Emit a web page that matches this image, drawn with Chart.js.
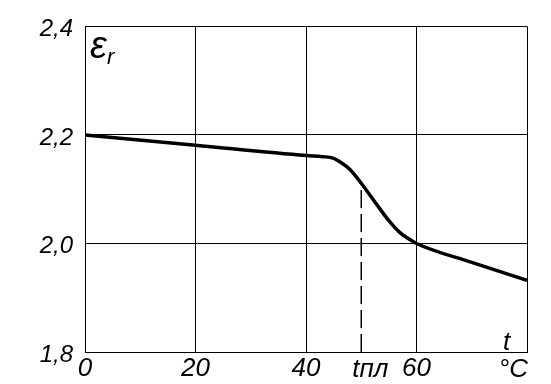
<!DOCTYPE html>
<html>
<head>
<meta charset="utf-8">
<script src="https://cdn.jsdelivr.net/npm/chart.js@4/dist/chart.umd.min.js"></script>
<style>
html,body{margin:0;padding:0;background:#fff;}
canvas{display:block;}
</style>
</head>
<body>
<canvas id="c" width="551" height="384"></canvas>
<script>
// Temperature, °C
const temps = [0, 20, 40, 43, 45, 46.5, 48, 50, 52.5, 55, 57, 58.5, 60, 70, 80];
// Relative permittivity ε_r
const epsR = [2.2, 2.181, 2.162, 2.160, 2.157, 2.148, 2.136, 2.111, 2.076, 2.042, 2.020, 2.009, 2.0, 1.965, 1.932];
// Melting temperature marker
const tMelt = 50;
const epsAtMelt = 2.111;
const xTicks = [0, 20, 40, 50, 60, 80];
const xTickLabels = ['0', '20', '40', '', '60', ''];
const yTicks = [1.8, 2.0, 2.2, 2.4];
const meltLabel = 'tпл';
const unitLabel = '°C';
const axisLabelX = 't';
const axisLabelY = 'ε';
const axisLabelYSub = 'r';

const FONT = '"Liberation Sans", Arial, sans-serif';

const labelsPlugin = {
  id: 'labels',
  afterDraw(chart) {
    const ctx = chart.ctx;
    const xs = chart.scales.x;
    const ca = chart.chartArea;
    ctx.save();
    ctx.fillStyle = '#000';
    ctx.textBaseline = 'alphabetic';
    ctx.font = 'italic 26px ' + FONT;
    ctx.textAlign = 'left';
    ctx.fillText(meltLabel, xs.getPixelForValue(tMelt) - 9, ca.bottom + 25);
    ctx.textAlign = 'right';
    ctx.fillText(unitLabel, xs.getPixelForValue(80) + 1, ca.bottom + 25);
    ctx.textAlign = 'left';
    ctx.fillText(axisLabelX, ca.right - 24, ca.bottom - 2);
    ctx.font = 'italic 38px ' + FONT;
    ctx.fillText(axisLabelY, ca.left + 5, ca.top + 32);
    ctx.font = 'italic 22px ' + FONT;
    ctx.fillText(axisLabelYSub, ca.left + 22, ca.top + 38);
    ctx.restore();
  }
};

new Chart(document.getElementById('c'), {
  type: 'scatter',
  data: {
    datasets: [
      {
        data: temps.map((t, i) => ({x: t, y: epsR[i]})),
        showLine: true,
        borderColor: '#000',
        borderWidth: 3.5,
        pointRadius: 0,
        cubicInterpolationMode: 'monotone',
        fill: false
      },
      {
        data: [{x: tMelt, y: yTicks[0]}, {x: tMelt, y: epsAtMelt}],
        showLine: true,
        borderColor: '#000',
        borderWidth: 1.5,
        borderDash: [18, 6],
        pointRadius: 0,
        fill: false
      }
    ]
  },
  options: {
    responsive: false,
    animation: false,
    devicePixelRatio: 1,
    layout: {padding: {left: 0, right: 24, top: 20, bottom: 0}},
    plugins: {legend: {display: false}, tooltip: {enabled: false}},
    scales: {
      x: {
        type: 'linear',
        min: 0, max: 80,
        afterBuildTicks: s => { s.ticks = xTicks.map(v => ({value: v})); },
        afterFit: s => { s.height = 32; },
        grid: {
          color: c => (c.tick && c.tick.value === tMelt) ? 'rgba(0,0,0,0)' : '#000',
          lineWidth: 1,
          drawTicks: false
        },
        border: {display: true, color: '#000', width: 1},
        ticks: {
          autoSkip: false,
          maxRotation: 0,
          padding: 1,
          color: '#000',
          font: {family: FONT, size: 26, style: 'italic'},
          callback: v => { const i = xTicks.indexOf(v); return i >= 0 ? xTickLabels[i] : ''; }
        }
      },
      y: {
        min: 1.8, max: 2.4,
        afterBuildTicks: s => { s.ticks = yTicks.map(v => ({value: v})); },
        afterFit: s => { s.width = 85; },
        grid: {color: '#000', lineWidth: 1, drawTicks: false},
        border: {display: true, color: '#000', width: 1},
        ticks: {
          padding: 12,
          labelOffset: 3,
          color: '#000',
          font: {family: FONT, size: 24, style: 'italic'},
          callback: v => v.toFixed(1).replace('.', ',')
        }
      }
    }
  },
  plugins: [labelsPlugin]
});
</script>
</body>
</html>
